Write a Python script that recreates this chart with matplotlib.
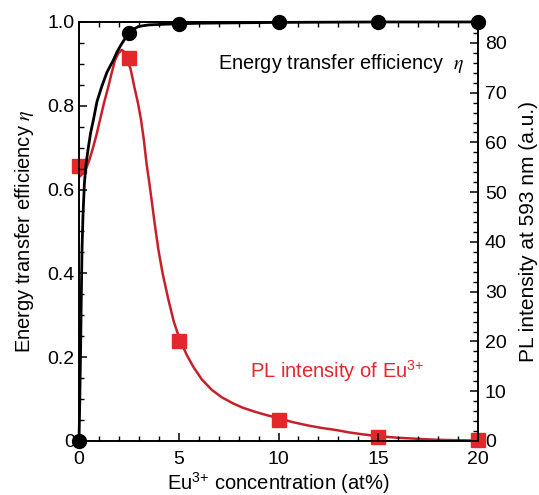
import matplotlib
matplotlib.use("Agg")
import matplotlib.pyplot as plt
from matplotlib.ticker import MultipleLocator, FuncFormatter

plt.rcParams["font.family"] = ["Liberation Sans", "DejaVu Sans"]
plt.rcParams["mathtext.fontset"] = "stix"

# measured points
conc = [0, 2.5, 5, 10, 15, 20]
eta = [0.0, 0.973, 0.996, 1.0, 1.0, 1.0]
pl = [55.2, 76.9, 20.0, 4.3, 0.8, 0.3]

# fitted curves
eta_fit_x = [0, 0.02, 0.04, 0.06, 0.08, 0.11, 0.15, 0.2, 0.27, 0.35, 0.45, 0.58,
             0.72, 0.9, 1.14, 1.4, 1.72, 1.9, 2.1, 2.3, 2.56, 2.75, 2.97, 3.2,
             3.5, 4.5, 6, 8, 10, 15, 20]
eta_fit_y = [0.0, 0.05, 0.10, 0.16, 0.22, 0.33, 0.456, 0.54, 0.615, 0.66, 0.695,
             0.735, 0.766, 0.81, 0.846, 0.88, 0.909, 0.928, 0.945, 0.96, 0.973,
             0.983, 0.989, 0.991, 0.993, 0.995, 0.997, 0.998, 0.999, 1.0, 1.0]

pl_fit_x = [0, 0.2, 0.35, 0.52, 0.7, 0.88, 1.05, 1.25, 1.47, 1.64, 1.8, 1.97,
            2.14, 2.3, 2.44, 2.6, 2.77, 2.95, 3.11, 3.25, 3.39, 3.52, 3.64, 3.8,
            3.98, 4.2, 4.48, 4.75, 5.06, 5.4, 5.73, 6.15, 6.65, 7.15, 7.7, 8.2,
            8.8, 9.4, 10.0, 10.7, 11.5, 12.2, 12.9, 13.5, 14.2, 14.8, 15.4, 16.0,
            16.7, 17.3, 17.9, 19.0, 20.0]
pl_fit_y = [53.0, 53.8, 54.7, 56.5, 58.9, 61.6, 64.5, 67.9, 71.2, 74.0, 76.5,
            77.9, 78.6, 78.1, 76.5, 74.5, 71.2, 68.0, 64.5, 60.5, 55.6, 52.0,
            48.4, 43.5, 38.4, 33.5, 28.4, 24.0, 20.3, 17.3, 14.9, 12.4, 10.3,
            8.8, 7.6, 6.7, 5.9, 5.2, 4.6, 3.8, 3.1, 2.6, 2.2, 1.75, 1.35, 1.05,
            0.84, 0.65, 0.5, 0.37, 0.25, 0.15, 0.1]

fig = plt.figure(figsize=(5.39, 4.95), dpi=100)
ax1 = fig.add_axes([0.1466, 0.1091, 0.7402, 0.8465])
ax2 = ax1.twinx()
ax1.set_zorder(ax2.get_zorder() + 1)
ax1.patch.set_visible(False)

red_line = "#c8202a"
red_mark = "#e3272b"
fs = 14

ax2.plot(pl_fit_x, pl_fit_y, color=red_line, lw=1.8, zorder=2,
         solid_joinstyle="round")
ax2.plot(conc, pl, ls="none", marker="s", ms=10.5, color=red_mark,
         clip_on=False, zorder=3)

ax1.plot(eta_fit_x, eta_fit_y, color="black", lw=2.0, zorder=2, clip_on=False,
         solid_joinstyle="round")
ax1.plot(conc, eta, ls="none", marker="o", ms=10, color="black",
         clip_on=False, zorder=4)

ax1.set_xlim(0, 20)
ax1.set_ylim(0, 1.0)
ax2.set_ylim(0, 84.2)

ax1.xaxis.set_major_locator(MultipleLocator(5))
ax1.xaxis.set_minor_locator(MultipleLocator(1))
ax1.yaxis.set_major_locator(MultipleLocator(0.2))
ax1.yaxis.set_minor_locator(MultipleLocator(0.05))
ax1.yaxis.set_major_formatter(
    FuncFormatter(lambda v, p: "0" if abs(v) < 1e-9 else f"{v:.1f}"))
ax2.yaxis.set_major_locator(MultipleLocator(10))
ax2.yaxis.set_minor_locator(MultipleLocator(2))

ax1.tick_params(axis="x", which="both", direction="in", top=True,
                labelsize=fs, pad=7)
ax1.tick_params(axis="y", which="both", direction="in", right=False,
                labelsize=fs, pad=3)
ax2.tick_params(axis="y", which="both", direction="in", labelsize=fs, pad=5)
for a in (ax1, ax2):
    a.tick_params(which="major", length=6, width=1.1)
    a.tick_params(which="minor", length=3.5, width=1.0)
    for s in a.spines.values():
        s.set_linewidth(1.2)

ax1.set_xlabel("Eu$^{\\mathregular{3{+}}}$ concentration (at%)", fontsize=14.5,
               labelpad=2)
ax1.set_ylabel("Energy transfer efficiency $\\eta$", fontsize=14.5, labelpad=8)
ax2.set_ylabel("PL intensity at 593 nm (a.u.)", fontsize=15, labelpad=9)

ax1.text(6.95, 0.902, "Energy transfer efficiency  $\\eta$", fontsize=14.3,
         ha="left", va="center", color="black")
ax1.text(8.57, 0.167, "PL intensity of Eu$^{\\mathregular{3{+}}}$", fontsize=14.5,
         ha="left", va="center", color=red_mark)

fig.savefig("out.png", dpi=100)
